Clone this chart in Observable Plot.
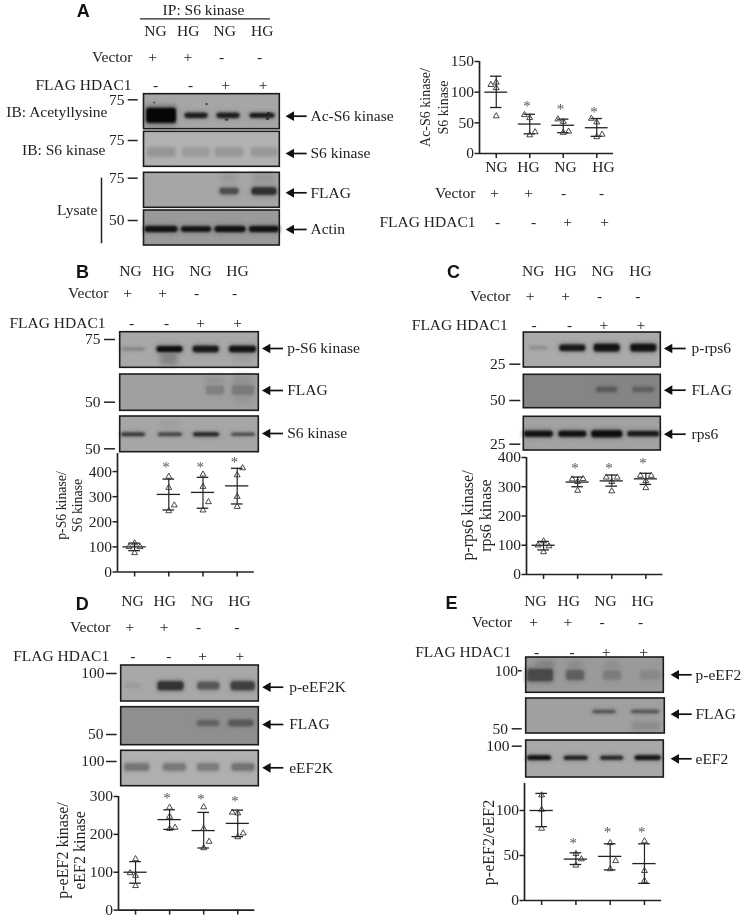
<!DOCTYPE html>
<html><head><meta charset="utf-8">
<style>
html,body{margin:0;padding:0;background:#fff}
#page{position:relative;width:745px;height:917px;overflow:hidden}
#page svg{position:absolute;overflow:visible;max-width:none;opacity:.995}
</style>
<script src="https://cdn.jsdelivr.net/npm/d3@7"></script>
<script src="https://cdn.jsdelivr.net/npm/@observablehq/plot@0.6"></script>
</head><body><div id="page"></div>
<script>
// ---------- data ----------
const conditions = ["NG","HG","NG","HG"];
const vectorSigns = ["+","+","-","-"];
const flagSigns = ["-","-","+","+"];

const repsA = [[112,116,107,61],[63,58,35,30],[56,52,34,36],[57,51,31,27]];
const meansA = [100,48,46,42];
const upperA = [126,64,56,57];
const lowerA = [75,32,34,28];
const starsA = [null,80,75,71];

const repsB = [[115,100,100,76],[380,336,266,243],[389,340,279,246],[414,386,300,260]];
const meansB = [100,309,317,343];
const upperB = [115,370,377,413];
const lowerB = [85,247,254,271];
const starsB = [null,426,426,446];

const repsC = [[114,100,97,77],[326,327,317,287],[332,332,317,285],[338,338,320,296]];
const meansC = [100,316,320,327];
const upperC = [113,333,340,346];
const lowerC = [84,300,302,308];
const starsC = [null,370,370,387];

const repsD = [[135,98,91,64],[271,247,218,215],[272,215,181,164],[258,256,203,193]];
const meansD = [100,239,210,229];
const upperD = [128,265,258,264];
const lowerD = [71,213,164,194];
const starsD = [null,302,297,292];

const repsE = [[117,101,80],[52,46,39],[64,44,35],[66,33,22]];
const meansE = [100,46,49,41];
const upperE = [119,53,63,63];
const lowerE = [82,40,34,19];
const starsE = [null,66,78,78];

// band darkness per lane (0 = absent, 1 = black)
const darkAc = [1,.85,.85,.88], darkAS6 = [.16,.13,.15,.15], darkAFlag = [0,0,.55,.75], darkActin = [.92,.92,.92,.92];
const darkPS6 = [.22,.95,.88,.92], darkBFlag = [0,0,.2,.24], darkBS6 = [.72,.62,.8,.6];
const darkPrps6 = [.18,.88,.92,.92], darkCFlag = [0,0,.35,.3], darkRps6 = [.92,.92,.95,.88];
const darkPeEF2K = [.07,.72,.5,.65], darkDFlag = [0,0,.33,.4], darkEEF2K = [.34,.32,.3,.36];
const darkPeEF2 = [.55,.4,.2,.12], darkEFlag = [0,0,.5,.48], darkEEF2 = [.92,.85,.8,.9];

// ---------- layout ----------
const serif = "'Liberation Serif','Times New Roman',serif";
const ink = "#222";
const FS = 15.5;

const blots = [
 {L:143.5,R:279.3,y1:93.7,y2:128.7,yc:115.3,bg:"#a6a6a6",dark:darkAc,lanes:[161,196,228,262],w:[28,21,21,23],t:[12,4,4,3.5],
  specks:[[153.7,102,.9,.7],[206,103.5,1.1,.8],[174,121.7,.9,.7],[226,118.5,2,.6],[267,118,1.8,.7],[268,113.5,2,.8]]},
 {L:143.5,R:279.3,y1:131.3,y2:166.3,yc:152,bg:"#b2b2b2",dark:darkAS6,lanes:[161,196,229,264],w:[26,25,26,24],t:[7,7,7,7]},
 {L:143.5,R:279.3,y1:172.3,y2:207.3,yc:191,bg:"#a6a6a6",dark:darkAFlag,lanes:[161,196,229,264],w:[0,0,17,23],t:[0,0,5,6],
  smear:[[229,178,16,7,.1],[264,178,22,8,.12]]},
 {L:143.5,R:279.3,y1:210,y2:245,yc:229,bg:"#9a9a9a",dark:darkActin,lanes:[161,196,230,264],w:[31,28,29,28],t:[4.5,4,4.5,4.5]},

 {L:119.7,R:258.3,y1:331.7,y2:367.3,yc:349,bg:"#a8a8a8",dark:darkPS6,lanes:[133,169.5,205.7,242.5],w:[22,24,24,25],t:[2,4.5,5,5],
  smear:[[169,358,17,14,.22],[242,358,18,9,.06]]},
 {L:119.7,R:258.3,y1:374,y2:410.3,yc:390,bg:"#a0a0a0",dark:darkBFlag,lanes:[133,169,215,243],w:[0,0,16,20],t:[0,0,7,8],
  smear:[[215,381,18,9,.08],[243,381,20,11,.1],[243,399,18,10,.06]]},
 {L:119.7,R:258.3,y1:416,y2:451.7,yc:434.3,bg:"#a6a6a6",dark:darkBS6,lanes:[133,170,206,243],w:[22,22,24,22],t:[2.5,2.5,3,2],
  smear:[[169,424,18,8,.05]]},

 {L:523.3,R:660.3,y1:332,y2:367,yc:347.7,bg:"#aaaaaa",dark:darkPrps6,lanes:[538.3,572.3,606.7,643.3],w:[16,24,24,24],t:[2,5,6,6]},
 {L:523.3,R:660.3,y1:374.3,y2:407.7,yc:389.3,bg:"#858585",dark:darkCFlag,lanes:[538.3,572.3,606.7,643.3],w:[0,0,19,20],t:[0,0,4,4]},
 {L:523.3,R:660.3,y1:416.3,y2:450,yc:433.7,bg:"#a2a2a2",dark:darkRps6,lanes:[538.3,572.3,606.7,643.3],w:[27,26,29,30],t:[4.5,4.5,5.5,4]},

 {L:120.7,R:258.3,y1:665,y2:701,yc:685.7,bg:"#a8a8a8",dark:darkPeEF2K,lanes:[133.3,170.5,208.3,242.7],w:[14,24,20,22],t:[4,7,6,7]},
 {L:120.7,R:258.3,y1:706.7,y2:744.7,yc:723,bg:"#8f8f8f",dark:darkDFlag,lanes:[133.3,170,208,240.8],w:[0,0,20,23],t:[0,0,4,5]},
 {L:120.7,R:258.3,y1:750.3,y2:785.7,yc:767,bg:"#b0b0b0",dark:darkEEF2K,lanes:[136.7,174.3,208,243],w:[23,21,20,21],t:[6,6,6,6]},

 {L:525.7,R:663.3,y1:657,y2:692.3,yc:675,bg:"#9a9a9a",dark:darkPeEF2,lanes:[540,575,612,650],w:[24,16,16,18],t:[10,8,7,7],
  smear:[[545,665,18,9,.16],[575,665,14,9,.1],[612,665,14,9,.07]]},
 {L:525.7,R:664.3,y1:698,y2:733,yc:711.5,bg:"#a0a0a0",dark:darkEFlag,lanes:[540,574,604,645],w:[0,0,21,26],t:[0,0,2.5,2.5],
  smear:[[646,726,28,9,.14]]},
 {L:525.7,R:663.3,y1:740,y2:777,yc:757.7,bg:"#a8a8a8",dark:darkEEF2,lanes:[539,575.7,611.7,647.7],w:[22,22,21,24],t:[3.5,3,3,3.5]}
];

// [text, text end, tick start, tick end, y]
const markers = [
 ["75",124,127.7,137.7,99.3],["75",124,127.7,137.7,140],["75",124,127.7,137.7,177.7],["50",124,127.7,137.7,220],
 ["75",100,104,115,339],["50",100,104,115,401.7],["50",100,104,115,448.3],
 ["25",505,509.3,520.3,363.7],["50",505,509.3,520.3,400],["25",505,509.3,520.3,443.7],
 ["100",104,106,116.7,673],["50",103,106,116.7,734],["100",104,106,116.7,761],
 ["100",517.5,518,521.7,670.3],["50",507.5,511.7,521.7,728.3],["100",509,511.7,521.7,745.7]
];

// [label, arrow tip, arrow tail, text start, y]
const arrows = [
 ["Ac-S6 kinase",286.7,306.7,310,115.7],["S6 kinase",286.7,306.7,310,153],["FLAG",286.7,306.7,310,192.3],["Actin",286.7,306.7,310,229],
 ["p-S6 kinase",263,283,286.7,348],["FLAG",263,283,286.7,390],["S6 kinase",263,283,286.7,433],
 ["p-rps6",665,685.7,691,348],["FLAG",665,685.7,691,389.7],["rps6",665,685.7,691,433.7],
 ["p-eEF2K",263.3,283.3,288.7,686.7],["FLAG",263.3,283.3,288.7,724],["eEF2K",263.3,283.3,288.7,767.3],
 ["p-eEF2",671.7,691.7,695,674.3],["FLAG",671.7,691.7,695,713.7],["eEF2",671.7,691.7,695,758.3]
];

const headers = [
 {cond:[155,187.7,224.3,261.7],condY:31,vecEnd:132,vecY:56.7,vec:[152,187.3,221,259],flagEnd:131,flagY:85,flag:[155,190,225,262.7]},
 {cond:[130,163,200,237],condY:271,vecEnd:108,vecY:293,vec:[127,162,196,234],flagEnd:105,flagY:323,flag:[131,166,200,237]},
 {cond:[532.7,565,602.3,640],condY:270.7,vecEnd:510,vecY:296,vec:[529.7,565,599,637.3],flagEnd:507.3,flagY:324.7,flag:[533.7,569,603.3,640.3]},
 {cond:[132,164.3,201.7,239],condY:601,vecEnd:110,vecY:627,vec:[129.3,163.7,198,236.3],flagEnd:108.7,flagY:655.7,flag:[132.3,168.3,202,239.3]},
 {cond:[535,568.3,605,642.3],condY:601,vecEnd:511.7,vecY:622,vec:[533,567.3,601.7,640],flagEnd:510.7,flagY:651.3,flag:[536,571.7,605.7,643]},
 {cond:[496,528,565,603],condY:167,vecEnd:475,vecY:193,vec:[494,528,563,601],flagEnd:475,flagY:221.6,flag:[497,533,567,604]}
];

const letters = [["A",82.7,10.7],["B",82,272],["C",453,272],["D",81.7,603.3],["E",451,603]];

const leftLabels = [["IB: Acetyllysine",107,112],["IB: S6 kinase",105,150],["Lysate",97,210]];

// [text, x, y, font size]
const rotated = [
 ["Ac-S6 kinase/",425,107,14],["S6 kinase",443,107,14],
 ["p-S6 kinase/",61,505,13.8],["S6 kinase",77,505,13.8],
 ["p-rps6 kinase/",467,515,16],["rps6 kinase",485,515,16],
 ["p-eEF2 kinase/",62,850,16],["eEF2 kinase",79,850,16],
 ["p-eEF2/eEF2",488,842,16]
];

// ---------- overlay: blots, labels, arrows ----------
const shade = (bg,d) => d3.interpolateRgb(bg,"#060606")(d);
const strips = blots;
const bands = blots.flatMap(b => b.dark.map((d,i)=>({d,x:b.lanes[i],y:b.yc,w:b.w[i]+2,t:b.t[i]*1.2+.5,bg:b.bg})).filter(o=>o.d>0));
const smears = blots.flatMap(b => (b.smear||[]).map(([x,y,w,h,d])=>({x,y,w,h,fill:shade(b.bg,d)})));
const specks = blots.flatMap(b => (b.specks||[]).map(([x,y,r,d])=>({x,y,r,fill:shade(b.bg,d)})));

const midTexts = [], endTexts = [];
for (const h of headers) {
  h.cond.forEach((x,i)=>midTexts.push({text:conditions[i],x,y:h.condY}));
  h.vec.forEach((x,i)=>midTexts.push({text:vectorSigns[i],x,y:h.vecY}));
  h.flag.forEach((x,i)=>midTexts.push({text:flagSigns[i],x,y:h.flagY}));
  endTexts.push({text:"Vector",x:h.vecEnd,y:h.vecY},{text:"FLAG HDAC1",x:h.flagEnd,y:h.flagY});
}
midTexts.push({text:"IP: S6 kinase",x:203,y:10});
for (const [text,x,y] of leftLabels) endTexts.push({text,x,y});
for (const [text,x,,,y] of markers) endTexts.push({text,x,y});

const txt = {fontFamily:serif,fontSize:FS,fill:ink,lineAnchor:"middle"};

const overlay = Plot.plot({
  width:745,height:917,margin:0,
  x:{type:"identity",axis:null},y:{type:"identity",axis:null},r:{type:"identity"},
  style:{background:"transparent",fontFamily:serif},
  marks:[
    Plot.rect(strips,{x1:"L",x2:"R",y1:"y1",y2:"y2",fill:"bg"}),
    Plot.rect(smears,{x1:d=>d.x-d.w/2,x2:d=>d.x+d.w/2,y1:d=>d.y-d.h/2,y2:d=>d.y+d.h/2,fill:"fill",imageFilter:"blur(2.5px)"}),
    Plot.rect(bands,{x1:d=>d.x-d.w/2-1,x2:d=>d.x+d.w/2+1,y1:d=>d.y-d.t*.7,y2:d=>d.y+d.t*.7,fill:d=>shade(d.bg,d.d*.3),rx:4,imageFilter:"blur(2px)"}),
    Plot.rect(bands,{x1:d=>d.x-d.w/2,x2:d=>d.x+d.w/2,y1:d=>d.y-d.t/2,y2:d=>d.y+d.t/2,fill:d=>shade(d.bg,d.d),rx:3,imageFilter:"blur(1px)"}),
    Plot.dot(specks,{x:"x",y:"y",r:"r",fill:"fill",imageFilter:"blur(.6px)"}),
    Plot.rect(strips,{x1:"L",x2:"R",y1:"y1",y2:"y2",fill:"none",stroke:"#1c1c1c",strokeWidth:1.6}),
    // marker ticks
    Plot.ruleY(markers,{y:d=>d[4],x1:d=>d[2],x2:d=>d[3],stroke:ink,strokeWidth:1.5}),
    // arrows
    Plot.ruleY(arrows,{y:d=>d[4],x1:d=>d[1]+4,x2:d=>d[2],stroke:"#111",strokeWidth:1.7}),
    Plot.dot(arrows,{x:d=>d[1]+4,y:d=>d[4],symbol:"triangle",r:3.6,rotate:-90,fill:"#111"}),
    Plot.text(arrows,{x:d=>d[3],y:d=>d[4],text:d=>d[0],textAnchor:"start",...txt}),
    // IP bracket and Lysate bar
    Plot.ruleY([18.3],{x1:140,x2:270,stroke:ink,strokeWidth:1.3}),
    Plot.ruleX([101],{y1:177.7,y2:243.3,stroke:ink,strokeWidth:1.5}),
    Plot.text(midTexts,{x:"x",y:"y",text:"text",textAnchor:"middle",...txt}),
    Plot.text(endTexts,{x:"x",y:"y",text:"text",textAnchor:"end",...txt}),
    ...d3.groups(rotated,d=>d[3]).map(([size,rows])=>
      Plot.text(rows,{x:d=>d[1],y:d=>d[2],text:d=>d[0],rotate:-90,textAnchor:"middle",...txt,fontSize:size})),
    Plot.text(letters,{x:d=>d[1],y:d=>d[2],text:d=>d[0],textAnchor:"middle",lineAnchor:"middle",
      fontFamily:"'Liberation Sans',Arial,sans-serif",fontWeight:"bold",fontSize:18,fill:"#111"})
  ]
});
document.getElementById("page").appendChild(overlay);

// ---------- dot plots ----------
function scatter(c){
  const ml=40, mr=8, mt=12, mb=12;
  const pts = c.reps.flatMap((vals,g)=>vals.map((v,i)=>({g:g+1,v,o:c.offs[g][i]})));
  const rows = c.means.map((m,i)=>({g:i+1,m,u:c.upper[i],l:c.lower[i],s:c.stars[i]}));
  const svg = Plot.plot({
    width:c.right-c.left+ml+mr,height:c.bottom-c.top+mt+mb,
    marginLeft:ml,marginRight:mr,marginTop:mt,marginBottom:mb,
    x:{domain:[.5,4.5]},y:{domain:[0,c.yMax]},
    style:{background:"transparent",fontFamily:serif,fontSize:FS+"px",color:ink},
    marks:[
      Plot.axisY({ticks:c.ticks,tickSize:4.5,tickPadding:1,label:null,fontSize:FS,strokeWidth:1.5}),
      Plot.axisX({ticks:[1,2,3,4],tickFormat:()=>"",tickSize:5,label:null,strokeWidth:1.5}),
      Plot.ruleX([.5],{stroke:ink,strokeWidth:1.7}),
      Plot.ruleY([0],{stroke:ink,strokeWidth:1.7}),
      Plot.ruleX(rows,{x:"g",y1:"l",y2:"u",stroke:ink,strokeWidth:1.2}),
      Plot.ruleY(rows,{y:"m",x1:d=>d.g-.34,x2:d=>d.g+.34,stroke:ink,strokeWidth:1.3}),
      Plot.ruleY(rows,{y:"u",x1:d=>d.g-.17,x2:d=>d.g+.17,stroke:ink,strokeWidth:1.3}),
      Plot.ruleY(rows,{y:"l",x1:d=>d.g-.17,x2:d=>d.g+.17,stroke:ink,strokeWidth:1.3}),
      Plot.dot(pts,{x:d=>d.g+d.o*.16,y:"v",symbol:"triangle",r:2.2,stroke:"#333",strokeWidth:.9,fill:"none"}),
      Plot.text(rows.filter(d=>d.s!=null),{x:d=>d.g-.08,y:"s",text:()=>"*",dy:2,fontSize:15,fontFamily:serif,fill:"#555",lineAnchor:"middle"})
    ]
  });
  svg.style.left=(c.left-ml)+"px"; svg.style.top=(c.top-mt)+"px";
  document.getElementById("page").appendChild(svg);
}
scatter({left:479,right:613,top:60.7,bottom:152.7,yMax:150,ticks:[0,50,100,150],reps:repsA,means:meansA,upper:upperA,lower:lowerA,stars:starsA,
  offs:[[-1,0,0,0],[-1,0,1,0],[-1,0,0,1],[-1,0,1,0]]});
scatter({left:117.2,right:254,top:453,bottom:571.5,yMax:472,ticks:[0,100,200,300,400],reps:repsB,means:meansB,upper:upperB,lower:lowerB,stars:starsB,
  offs:[[0,-1,1,0],[0,0,1,0],[0,0,1,0],[1,0,0,0]]});
scatter({left:525.6,right:662,top:457.3,bottom:574.3,yMax:400,ticks:[0,100,200,300,400],reps:repsC,means:meansC,upper:upperC,lower:lowerC,stars:starsC,
  offs:[[0,-1,1,0],[-1,1,0,0],[-1,1,0,0],[-1,1,0,0]]});
scatter({left:117.7,right:254,top:795.7,bottom:909.3,yMax:300,ticks:[0,100,200,300],reps:repsD,means:meansD,upper:upperD,lower:lowerD,stars:starsD,
  offs:[[0,-1,0,0],[0,0,1,0],[0,0,1,0],[-1,0,1,0]]});
scatter({left:523.9,right:661,top:783,bottom:900,yMax:130,ticks:[0,50,100],reps:repsE,means:meansE,upper:upperE,lower:lowerE,stars:starsE,
  offs:[[0,0,0],[0,1,0],[0,1,0],[0,0,0]]});
</script>
</body></html>
